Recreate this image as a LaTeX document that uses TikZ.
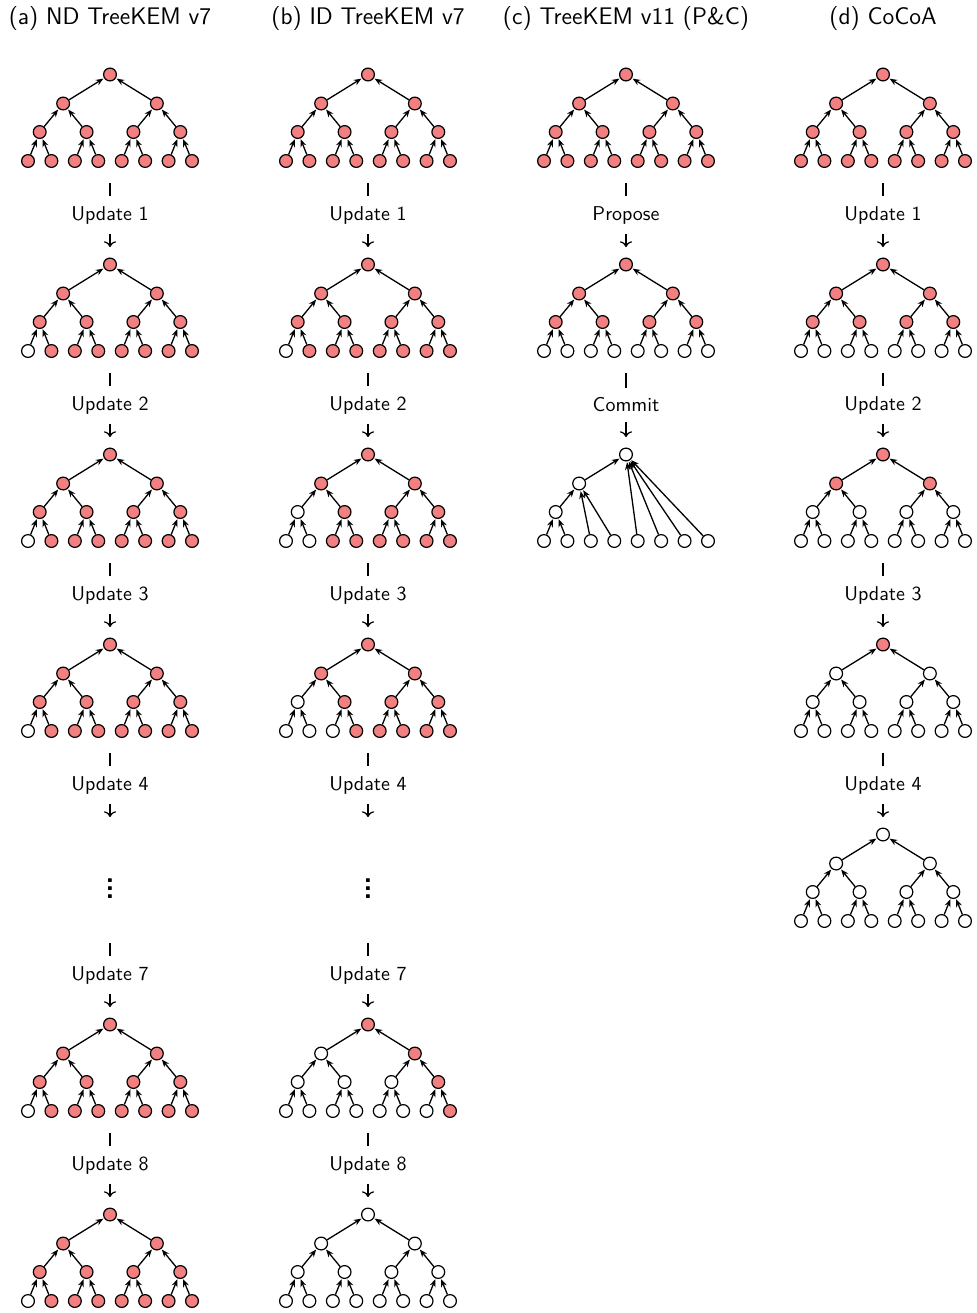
\documentclass[tikz,border=0pt]{standalone}
\usepackage{tikz}
\usetikzlibrary{arrows.meta}
\definecolor{kemred}{RGB}{242,128,128}
\tikzset{
  kn/.style={circle,draw,line width=0.6pt,minimum size=6.4pt,inner sep=0pt},
  rd/.style={kn,fill=kemred},
  wt/.style={kn,fill=white},
  kedge/.style={-{Stealth[length=3.8pt,width=3pt]},line width=0.65pt,shorten >=0.4pt},
  upd/.style={->,line width=0.6pt,shorten >=5.2pt},
  lbl/.style={fill=white,font=\sffamily,pos=0.43,inner xsep=2pt,inner ysep=5pt},
  ttl/.style={font=\sffamily\large}
}
\def\kemdx{{0,-46.86,46.86,-70.29,-23.43,23.43,70.29,-82,-58.58,-35.15,-11.72,11.72,35.15,58.58,82}}
\def\kemdy{{0,29,29,57.5,57.5,57.5,57.5,86.5,86.5,86.5,86.5,86.5,86.5,86.5,86.5}}
\newcommand{\kemtree}[4]{%
  \foreach \st [count=\i] in {#4} {
    \pgfmathsetmacro\kx{#2+\kemdx[\i-1]}
    \pgfmathsetmacro\ky{#3+\kemdy[\i-1]}
    \node[\st] (#1n\i) at (\kx,\ky) {};
  }
  \foreach \i in {2,...,15} {
    \pgfmathtruncatemacro\kp{\i/2}
    \draw[kedge] (#1n\i) -- (#1n\kp);
  }
  \coordinate (#1b) at (#2,#3+108.5);
}

\begin{document}
\begin{tikzpicture}[x=0.5pt,y=-0.5pt]
\useasboundingbox (0,0) rectangle (976,1313);
\node[ttl] (ta) at (110,19) {(a) ND TreeKEM v7};
\node[ttl] (tb) at (368,19) {(b) ID TreeKEM v7};
\node[ttl] (tc) at (626,19) {(c) TreeKEM v11 (P\&C)};
\node[ttl] (td) at (883,19) {(d) CoCoA};

\kemtree{a0}{110}{74.5}{rd,rd,rd,rd,rd,rd,rd,rd,rd,rd,rd,rd,rd,rd,rd}
\kemtree{a1}{110}{264.5}{rd,rd,rd,rd,rd,rd,rd,wt,rd,rd,rd,rd,rd,rd,rd}
\kemtree{a2}{110}{454.5}{rd,rd,rd,rd,rd,rd,rd,wt,rd,rd,rd,rd,rd,rd,rd}
\kemtree{a3}{110}{644.5}{rd,rd,rd,rd,rd,rd,rd,wt,rd,rd,rd,rd,rd,rd,rd}
\kemtree{a5}{110}{1024.5}{rd,rd,rd,rd,rd,rd,rd,wt,rd,rd,rd,rd,rd,rd,rd}
\kemtree{a6}{110}{1214.5}{rd,rd,rd,rd,rd,rd,rd,wt,rd,rd,rd,rd,rd,rd,rd}
\coordinate (a4n1) at (110,827.5);
\coordinate (a4b) at (110,943);
\node[font=\sffamily\bfseries\Large] (a4d) at (110,883) {$\vdots$};
\draw[upd] (a0b) -- node[lbl] (a1l) {Update 1} (a1n1);
\draw[upd] (a1b) -- node[lbl] (a2l) {Update 2} (a2n1);
\draw[upd] (a2b) -- node[lbl] (a3l) {Update 3} (a3n1);
\draw[upd] (a3b) -- node[lbl] (a4l) {Update 4} (a4n1);
\draw[upd] (a4b) -- node[lbl] (a5l) {Update 7} (a5n1);
\draw[upd] (a5b) -- node[lbl] (a6l) {Update 8} (a6n1);

\kemtree{b0}{368}{74.5}{rd,rd,rd,rd,rd,rd,rd,rd,rd,rd,rd,rd,rd,rd,rd}
\kemtree{b1}{368}{264.5}{rd,rd,rd,rd,rd,rd,rd,wt,rd,rd,rd,rd,rd,rd,rd}
\kemtree{b2}{368}{454.5}{rd,rd,rd,wt,rd,rd,rd,wt,wt,rd,rd,rd,rd,rd,rd}
\kemtree{b3}{368}{644.5}{rd,rd,rd,wt,rd,rd,rd,wt,wt,wt,rd,rd,rd,rd,rd}
\kemtree{b5}{368}{1024.5}{rd,wt,rd,wt,wt,wt,rd,wt,wt,wt,wt,wt,wt,wt,rd}
\kemtree{b6}{368}{1214.5}{wt,wt,wt,wt,wt,wt,wt,wt,wt,wt,wt,wt,wt,wt,wt}
\coordinate (b4n1) at (368,827.5);
\coordinate (b4b) at (368,943);
\node[font=\sffamily\bfseries\Large] (b4d) at (368,883) {$\vdots$};
\draw[upd] (b0b) -- node[lbl] (b1l) {Update 1} (b1n1);
\draw[upd] (b1b) -- node[lbl] (b2l) {Update 2} (b2n1);
\draw[upd] (b2b) -- node[lbl] (b3l) {Update 3} (b3n1);
\draw[upd] (b3b) -- node[lbl] (b4l) {Update 4} (b4n1);
\draw[upd] (b4b) -- node[lbl] (b5l) {Update 7} (b5n1);
\draw[upd] (b5b) -- node[lbl] (b6l) {Update 8} (b6n1);

\kemtree{c0}{626}{74.5}{rd,rd,rd,rd,rd,rd,rd,rd,rd,rd,rd,rd,rd,rd,rd}
\kemtree{c1}{626}{264.5}{rd,rd,rd,rd,rd,rd,rd,wt,wt,wt,wt,wt,wt,wt,wt}
\node[wt] (c2n1) at (626,454.5) {};
\node[wt] (c2n2) at (579.14,483.5) {};
\node[wt] (c2n4) at (555.71,512) {};
\foreach \i/\dx in {8/-82,9/-58.58,10/-35.15,11/-11.72,12/11.72,13/35.15,14/58.58,15/82}
  \node[wt] (c2n\i) at (626+\dx,541) {};
\foreach \c/\p in {8/4,9/4,4/2,10/2,11/2,2/1,12/1,13/1,14/1,15/1}
  \draw[kedge] (c2n\c) -- (c2n\p);
\draw[upd] (c0b) -- node[lbl] (c1l) {Propose} (c1n1);
\draw[upd] (c1b) -- node[lbl] (c2l) {Commit} (c2n1);

\kemtree{d0}{883}{74.5}{rd,rd,rd,rd,rd,rd,rd,rd,rd,rd,rd,rd,rd,rd,rd}
\kemtree{d1}{883}{264.5}{rd,rd,rd,rd,rd,rd,rd,wt,wt,wt,wt,wt,wt,wt,wt}
\kemtree{d2}{883}{454.5}{rd,rd,rd,wt,wt,wt,wt,wt,wt,wt,wt,wt,wt,wt,wt}
\kemtree{d3}{883}{644.5}{rd,wt,wt,wt,wt,wt,wt,wt,wt,wt,wt,wt,wt,wt,wt}
\kemtree{d4}{883}{834.5}{wt,wt,wt,wt,wt,wt,wt,wt,wt,wt,wt,wt,wt,wt,wt}
\draw[upd] (d0b) -- node[lbl] (d1l) {Update 1} (d1n1);
\draw[upd] (d1b) -- node[lbl] (d2l) {Update 2} (d2n1);
\draw[upd] (d2b) -- node[lbl] (d3l) {Update 3} (d3n1);
\draw[upd] (d3b) -- node[lbl] (d4l) {Update 4} (d4n1);
\end{tikzpicture}
\end{document}
